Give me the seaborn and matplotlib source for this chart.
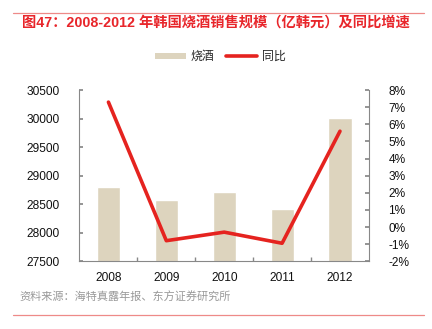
import numpy as np
import pandas as pd
import matplotlib
matplotlib.use("Agg")
import matplotlib.pyplot as plt
import seaborn as sns
from matplotlib.patches import Patch
from matplotlib.lines import Line2D
from matplotlib.ticker import FuncFormatter, FixedLocator, NullFormatter

years = ["2008", "2009", "2010", "2011", "2012"]
sales = [28810, 28565, 28710, 28420, 30015]
yoy = [7.3, -0.8, -0.3, -0.95, 5.6]

title_text = "图47：2008-2012 年韩国烧酒销售规模（亿韩元）及同比增速"
source_text = "资料来源：海特真露年报、东方证券研究所"

sns.set_theme(style="white")
plt.rcParams["font.family"] = ["Liberation Sans", "Noto Sans CJK SC", "DejaVu Sans"]

bar_color = "#DDD4BE"
line_color = "#E5231F"
red = "#E8262B"
spine_color = "#888888"

df = pd.DataFrame({"year": years, "sales": sales, "yoy": yoy})

fig = plt.figure(figsize=(4.32, 3.29), dpi=100)
ax = fig.add_axes([0.184, 0.206, 0.670, 0.520])
sns.barplot(data=df, x="year", y="sales", color=bar_color, width=0.40,
            saturation=1, ax=ax)
ax.set_ylim(27500, 30500)
ax.set_yticks(np.arange(27500, 30501, 500))
ax.set_xlim(-0.5, len(years) - 0.5)
ax.set_xlabel("")
ax.set_ylabel("")

ax2 = ax.twinx()
sns.lineplot(x=np.arange(len(years)), y=df["yoy"], color=line_color,
             linewidth=2.6, ax=ax2, legend=False)
ax2.set_ylim(-2, 8)
ax2.set_yticks(np.arange(-2, 9, 1))
ax2.yaxis.set_major_formatter(FuncFormatter(lambda v, p: f"{v:.0f}%"))
ax2.set_ylabel("")
ax2.set_xlim(-0.5, len(years) - 0.5)

for a in (ax, ax2):
    for s in a.spines.values():
        s.set_visible(False)
    a.grid(False)

ax.spines["left"].set_visible(True)
ax.spines["bottom"].set_visible(True)
ax2.spines["right"].set_visible(True)
for s in (ax.spines["left"], ax.spines["bottom"], ax2.spines["right"]):
    s.set_color(spine_color)
    s.set_linewidth(0.8)

ax.tick_params(axis="y", direction="in", length=3, color=spine_color,
               labelsize=8.6, labelcolor="#111111", left=True, pad=14)
ax2.tick_params(axis="y", direction="in", length=3, color=spine_color,
                labelsize=8.6, labelcolor="#111111", right=True, pad=14)
ax.tick_params(axis="x", which="major", length=0, labelsize=8.6,
               labelcolor="#111111", pad=8)
ax.xaxis.set_minor_locator(FixedLocator(np.arange(0.5, len(years) - 1, 1)))
ax.xaxis.set_minor_formatter(NullFormatter())
ax.tick_params(axis="x", which="minor", direction="in", length=3,
               color=spine_color, bottom=True)

handles = [Patch(facecolor=bar_color, edgecolor="none"),
           Line2D([0], [0], color=line_color, linewidth=2.6)]
fig.legend(handles, ["烧酒", "同比"], loc="center", bbox_to_anchor=(0.51, 0.826),
           ncol=2, frameon=False, fontsize=8.6, handlelength=2.6,
           handleheight=0.5, columnspacing=1.0, handletextpad=0.4)

fig.text(0.052, 0.93, title_text, color=red, fontsize=10.3, fontweight="bold",
         ha="left", va="center")
fig.add_artist(Line2D([0.03, 0.982], [0.962, 0.962], color="#EE8A88",
                      linewidth=0.9, transform=fig.transFigure))
fig.text(0.045, 0.097, source_text, color="#999999", fontsize=8.0,
         ha="left", va="center")
fig.add_artist(Line2D([0.03, 0.982], [0.043, 0.043], color="#EE8A88",
                      linewidth=0.9, transform=fig.transFigure))

fig.savefig("out.png", dpi=100)
